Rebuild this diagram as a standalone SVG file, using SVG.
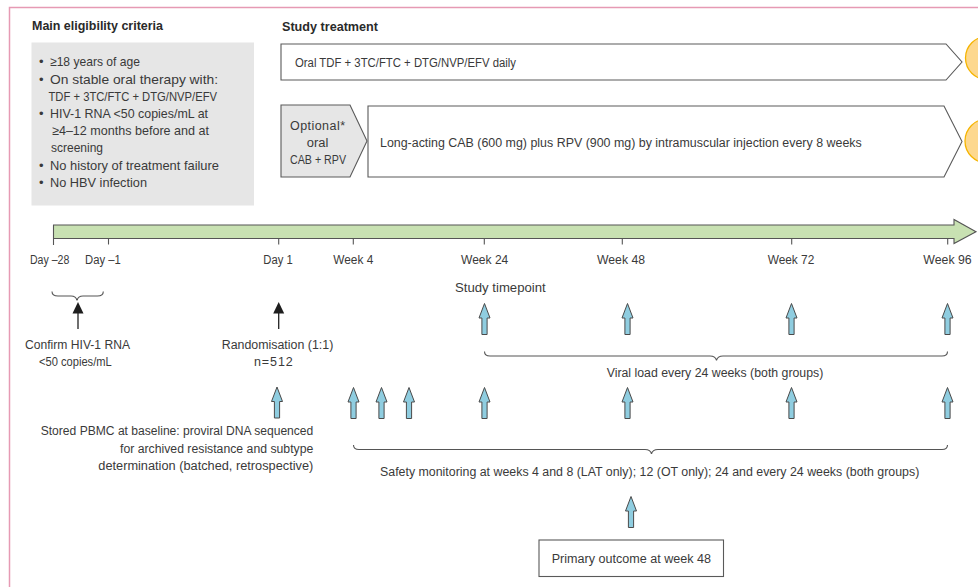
<svg xmlns="http://www.w3.org/2000/svg" xmlns:xlink="http://www.w3.org/1999/xlink" width="978" height="587" viewBox="0 0 978 587">
<style>
text{font-family:"Liberation Sans",Arial,sans-serif;font-size:12.5px;fill:#3a3a3a}
.c{font-size:13px}
.b{font-weight:bold;font-size:12px;fill:#2a2a2a}
.box{fill:#fff;stroke:#5a5a5a;stroke-width:1.1}
.grey{fill:#e6e6e6;stroke:#5a5a5a;stroke-width:1.1}
.circ{fill:#fdd88e;stroke:#f5b400;stroke-width:1.3}
.tick{stroke:#555;stroke-width:1.1}
.brace{fill:none;stroke:#555;stroke-width:1.1}
.blk{stroke:#222;stroke-width:1.3}
</style>
<defs>
<path id="barrow" d="M0,0 L5.5,14.5 L2.6,14.5 L2.6,31 L-2.6,31 L-2.6,14.5 L-5.5,14.5 Z" fill="#8fcde0" stroke="#4a4a4a" stroke-width="1"/>
<path id="karrow" d="M0,0 L5.5,11.5 L-5.5,11.5 Z" fill="#1e1e1e"/>
</defs>
<rect width="978" height="587" fill="#fff"/>
<path d="M9.5,600 L9.5,7.5 L990,7.5" fill="none" stroke="#e69ab4" stroke-width="1.5"/>

<g id="eligibility">
<text class="b" x="32" y="30" textLength="131" lengthAdjust="spacingAndGlyphs">Main eligibility criteria</text>
<rect x="31.5" y="42.5" width="222.5" height="163" fill="#e6e6e6"/>
<text class="c" x="39" y="66">•</text>
<text class="c" x="50" y="66" textLength="90" lengthAdjust="spacingAndGlyphs">≥18 years of age</text>
<text class="c" x="39" y="84">•</text>
<text class="c" x="50" y="84" textLength="168" lengthAdjust="spacingAndGlyphs">On stable oral therapy with:</text>
<text class="c" x="48.5" y="101" textLength="168.5" lengthAdjust="spacingAndGlyphs">TDF + 3TC/FTC + DTG/NVP/EFV</text>
<text class="c" x="39" y="118">•</text>
<text class="c" x="50" y="118" textLength="158" lengthAdjust="spacingAndGlyphs">HIV-1 RNA &lt;50 copies/mL at</text>
<text class="c" x="52" y="135" textLength="157" lengthAdjust="spacingAndGlyphs">≥4–12 months before and at</text>
<text class="c" x="51" y="152" textLength="52" lengthAdjust="spacingAndGlyphs">screening</text>
<text class="c" x="39" y="169.5">•</text>
<text class="c" x="50" y="169.5" textLength="169" lengthAdjust="spacingAndGlyphs">No history of treatment failure</text>
<text class="c" x="39" y="187">•</text>
<text class="c" x="50" y="187" textLength="97" lengthAdjust="spacingAndGlyphs">No HBV infection</text>
</g>

<g id="study-treatment-title">
<text class="b" x="282" y="31" textLength="96" lengthAdjust="spacingAndGlyphs">Study treatment</text>
</g>

<g id="oral-arm">
<polygon class="box" points="281,44 946,44 962,62 946,80 281,80"/>
<text x="295" y="66.5" textLength="221" lengthAdjust="spacingAndGlyphs">Oral TDF + 3TC/FTC + DTG/NVP/EFV daily</text>
</g>
<g id="oral-arm-end">
<circle class="circ" cx="987" cy="58" r="21.5"/>
</g>

<g id="optional-lead-in">
<polygon class="grey" points="281,105 350,105 367,141 350,177 281,177"/>
<text x="290" y="130" textLength="55" lengthAdjust="spacing">Optional*</text>
<text x="306.7" y="147" textLength="21.6" lengthAdjust="spacingAndGlyphs">oral</text>
<text x="290" y="164" textLength="56" lengthAdjust="spacingAndGlyphs">CAB + RPV</text>
</g>

<g id="la-arm">
<polygon class="box" points="368,106 944,106 962,141.5 944,177 368,177"/>
<text x="380" y="147" textLength="481.7" lengthAdjust="spacingAndGlyphs">Long-acting CAB (600 mg) plus RPV (900 mg) by intramuscular injection every 8 weeks</text>
</g>
<g id="la-arm-end">
<circle class="circ" cx="987" cy="141" r="22"/>
</g>

<g id="timeline">
<polygon points="53.5,225 954,225 954,219.5 976,231.7 954,243.5 954,238.5 53.5,238.5" fill="#c8e1b2" stroke="#555" stroke-width="1.1"/>
<line class="tick" x1="53.5" y1="238.5" x2="53.5" y2="245"/>
<line class="tick" x1="108.5" y1="238.5" x2="108.5" y2="244.5"/>
<line class="tick" x1="278.7" y1="238.5" x2="278.7" y2="244.5"/>
<line class="tick" x1="353.3" y1="238.5" x2="353.3" y2="244.5"/>
<line class="tick" x1="484.3" y1="238.5" x2="484.3" y2="244.5"/>
<line class="tick" x1="622.3" y1="238.5" x2="622.3" y2="244.5"/>
<line class="tick" x1="791.7" y1="238.5" x2="791.7" y2="244.5"/>
<line class="tick" x1="947.7" y1="238.5" x2="947.7" y2="244.5"/>
<text x="30" y="263.5" textLength="39.3" lengthAdjust="spacingAndGlyphs">Day –28</text>
<text x="85" y="263.5" textLength="35.7" lengthAdjust="spacingAndGlyphs">Day –1</text>
<text x="263.3" y="263.5" textLength="29.4" lengthAdjust="spacingAndGlyphs">Day 1</text>
<text x="333.3" y="263.5" textLength="40" lengthAdjust="spacingAndGlyphs">Week 4</text>
<text x="461" y="263.5" textLength="47.3" lengthAdjust="spacingAndGlyphs">Week 24</text>
<text x="597" y="263.5" textLength="48" lengthAdjust="spacingAndGlyphs">Week 48</text>
<text x="767.7" y="263.5" textLength="46.6" lengthAdjust="spacingAndGlyphs">Week 72</text>
<text x="923.3" y="263.5" textLength="48.4" lengthAdjust="spacingAndGlyphs">Week 96</text>
</g>

<g id="confirm-label">
<text x="25" y="349" textLength="105" lengthAdjust="spacingAndGlyphs">Confirm HIV-1 RNA</text>
<text x="39" y="366" textLength="72.7" lengthAdjust="spacingAndGlyphs">&lt;50 copies/mL</text>
</g>
<g id="randomisation-label">
<text x="221.7" y="349" textLength="111.6" lengthAdjust="spacingAndGlyphs">Randomisation (1:1)</text>
<text x="254" y="366" textLength="38.7" lengthAdjust="spacing">n=512</text>
</g>
<g id="study-timepoint-label">
<text x="455" y="291.5" textLength="90.7" lengthAdjust="spacingAndGlyphs">Study timepoint</text>
</g>
<g id="viral-load-label">
<text x="606.7" y="377" textLength="216.6" lengthAdjust="spacingAndGlyphs">Viral load every 24 weeks (both groups)</text>
</g>
<g id="pbmc-label">
<text x="40.7" y="435" textLength="272.6" lengthAdjust="spacingAndGlyphs">Stored PBMC at baseline: proviral DNA sequenced</text>
<text x="120" y="452.5" textLength="193.3" lengthAdjust="spacingAndGlyphs">for archived resistance and subtype</text>
<text x="98.3" y="470" textLength="215" lengthAdjust="spacingAndGlyphs">determination (batched, retrospective)</text>
</g>
<g id="safety-label">
<text x="380" y="476" textLength="539.3" lengthAdjust="spacingAndGlyphs">Safety monitoring at weeks 4 and 8 (LAT only); 12 (OT only); 24 and every 24 weeks (both groups)</text>
</g>
<g id="primary-outcome">
<rect class="box" x="539" y="540" width="184.5" height="36.5"/>
<text x="551.7" y="562.5" textLength="159.3" lengthAdjust="spacingAndGlyphs">Primary outcome at week 48</text>
</g>

<g id="connectors">
<path class="brace" d="M52,291.5 Q52,296 58,296 L71,296 Q76,296 77,300.5 Q78,296 83,296 L97.5,296 Q103.3,296 103.3,291.5"/>
<path class="brace" d="M484.5,351.5 Q484.5,356 490,356 L710,356 Q715.5,356 716.5,360.5 Q717.5,356 723,356 L942,356 Q947.5,356 947.5,351.5"/>
<path class="brace" d="M353.5,445 Q353.5,449.5 359,449.5 L645,449.5 Q650.5,449.5 651.5,454 Q652.5,449.5 658,449.5 L942,449.5 Q947.5,449.5 947.5,445"/>
<line class="blk" x1="78" y1="312" x2="78" y2="329"/>
<use xlink:href="#karrow" x="78" y="302"/>
<line class="blk" x1="278.7" y1="312" x2="278.7" y2="329"/>
<use xlink:href="#karrow" x="278.7" y="302"/>
<use xlink:href="#barrow" x="484.5" y="303.5"/>
<use xlink:href="#barrow" x="627.5" y="303.5"/>
<use xlink:href="#barrow" x="791.5" y="303.5"/>
<use xlink:href="#barrow" x="947.5" y="303.5"/>
<use xlink:href="#barrow" x="277" y="387"/>
<use xlink:href="#barrow" x="353.5" y="387.5"/>
<use xlink:href="#barrow" x="381.5" y="387.5"/>
<use xlink:href="#barrow" x="409" y="387.5"/>
<use xlink:href="#barrow" x="484.5" y="387.5"/>
<use xlink:href="#barrow" x="627.5" y="387.5"/>
<use xlink:href="#barrow" x="791.5" y="387.5"/>
<use xlink:href="#barrow" x="947.5" y="387.5"/>
<use xlink:href="#barrow" x="631" y="496.5"/>
</g>
</svg>
